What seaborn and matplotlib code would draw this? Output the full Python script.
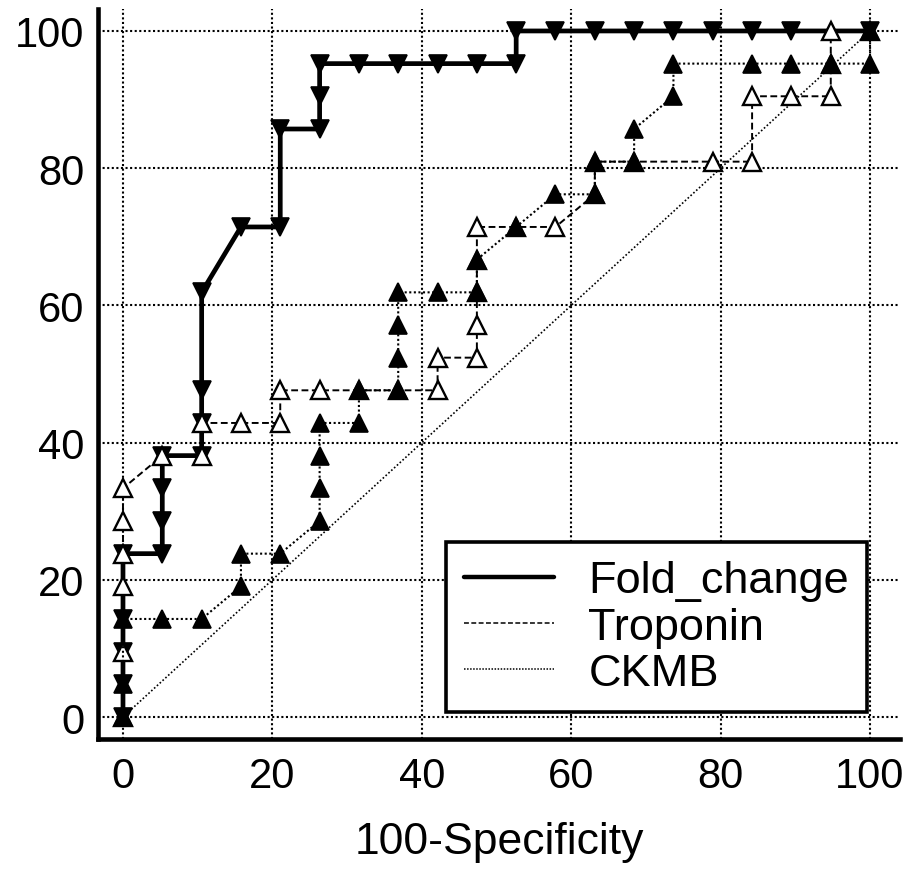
import numpy as np
import matplotlib
matplotlib.use("Agg")
import matplotlib.pyplot as plt
from matplotlib.lines import Line2D
from matplotlib.ticker import MultipleLocator
import seaborn as sns

# ROC points (100-Specificity, Sensitivity)
fold_x = [0, 0, 0, 0, 0, 5.26, 5.26, 5.26, 5.26, 10.53, 10.53, 10.53, 10.53,
          15.79, 21.05, 21.05, 26.32, 26.32, 26.32, 31.58, 36.84, 42.11, 47.37,
          52.63, 52.63, 57.89, 63.16, 68.42, 73.68, 78.95, 84.21, 89.47, 100]
fold_y = [0, 4.76, 9.52, 14.29, 23.81, 23.81, 28.57, 33.33, 38.10, 38.10, 42.86,
          47.62, 61.90, 71.43, 71.43, 85.71, 85.71, 90.48, 95.24, 95.24, 95.24,
          95.24, 95.24, 95.24, 100, 100, 100, 100, 100, 100, 100, 100, 100]

trop_x = [0, 0, 0, 0, 0, 0, 5.26, 10.53, 10.53, 15.79, 21.05, 21.05, 26.32, 31.58,
          36.84, 42.11, 42.11, 47.37, 47.37, 47.37, 47.37, 47.37, 52.63, 57.89,
          63.16, 63.16, 68.42, 78.95, 84.21, 84.21, 89.47, 94.74, 94.74, 94.74, 100]
trop_y = [0, 9.52, 19.05, 23.81, 28.57, 33.33, 38.10, 38.10, 42.86, 42.86, 42.86,
          47.62, 47.62, 47.62, 47.62, 47.62, 52.38, 52.38, 57.14, 61.90, 66.67,
          71.43, 71.43, 71.43, 76.19, 80.95, 80.95, 80.95, 80.95, 90.48, 90.48,
          90.48, 95.24, 100, 100]

ckmb_x = [0, 0, 0, 5.26, 10.53, 15.79, 15.79, 21.05, 26.32, 26.32, 26.32, 26.32,
          31.58, 31.58, 36.84, 36.84, 36.84, 36.84, 42.11, 47.37, 47.37, 52.63,
          57.89, 63.16, 63.16, 68.42, 68.42, 73.68, 73.68, 84.21, 89.47, 94.74,
          100, 100]
ckmb_y = [0, 4.76, 14.29, 14.29, 14.29, 19.05, 23.81, 23.81, 28.57, 33.33, 38.10,
          42.86, 42.86, 47.62, 47.62, 52.38, 57.14, 61.90, 61.90, 61.90, 66.67,
          71.43, 76.19, 76.19, 80.95, 80.95, 85.71, 90.48, 95.24, 95.24, 95.24,
          95.24, 95.24, 100]

labels = ["Fold_change", "Troponin", "CKMB"]

sns.set_style("white")
plt.rcParams["font.family"] = ["Liberation Sans", "DejaVu Sans"]
plt.rcParams["text.color"] = "black"
plt.rcParams["axes.labelcolor"] = "black"
plt.rcParams["xtick.color"] = "black"
plt.rcParams["ytick.color"] = "black"

fig = plt.figure(figsize=(9.13, 8.70), dpi=100)
ax = fig.add_axes([0.1073, 0.1494, 0.8784, 0.8391])

# reference diagonal
sns.lineplot(x=[0, 100], y=[0, 100], ax=ax, color="black", lw=1.2,
             linestyle=(0, (1, 1.3)), zorder=2)

sns.lineplot(x=fold_x, y=fold_y, ax=ax, sort=False, estimator=None,
             color="black", lw=3.4, linestyle="-", marker="v", markersize=13.5,
             markerfacecolor="black", markeredgecolor="black",
             markeredgewidth=1.2, zorder=3)
sns.lineplot(x=trop_x, y=trop_y, ax=ax, sort=False, estimator=None,
             color="black", lw=1.4, linestyle=(0, (3.5, 1.8)), marker="^",
             markersize=13.5, markerfacecolor="white", markeredgecolor="black",
             markeredgewidth=1.7, zorder=4)
sns.lineplot(x=ckmb_x, y=ckmb_y, ax=ax, sort=False, estimator=None,
             color="black", lw=1.5, linestyle=(0, (1, 1.2)), marker="^",
             markersize=13.5, markerfacecolor="black", markeredgecolor="black",
             markeredgewidth=1.2, zorder=5)

ax.set_xlim(-3.35, 104.0)
ax.set_ylim(-3.21, 103.2)
ax.xaxis.set_major_locator(MultipleLocator(20))
ax.yaxis.set_major_locator(MultipleLocator(20))
ax.xaxis.set_minor_locator(MultipleLocator(5))
ax.yaxis.set_minor_locator(MultipleLocator(5))

ax.grid(True, which="major", color="black", linestyle=(0, (1, 1.2)), lw=1.5)
ax.set_axisbelow(True)

for side in ["top", "right"]:
    ax.spines[side].set_visible(False)
for side in ["left", "bottom"]:
    ax.spines[side].set_linewidth(3.3)
    ax.spines[side].set_color("black")

ax.tick_params(which="major", direction="in", length=16.5, width=2.9,
               labelsize=30, color="black", pad=10)
ax.tick_params(axis="x", which="major", pad=12)
ax.tick_params(which="minor", direction="in", length=7.5, width=1.1,
               color="black")

ax.set_xlabel("100-Specificity", fontsize=32, labelpad=18)
ax.set_ylabel("")

handles = [
    Line2D([], [], color="black", lw=3.2, linestyle="-"),
    Line2D([], [], color="black", lw=1.1, linestyle=(0, (3.2, 1.6))),
    Line2D([], [], color="black", lw=1.1, linestyle=(0, (1, 1))),
]
leg = ax.legend(handles, labels, loc="lower right",
                bbox_to_anchor=(99.6, 0.7), bbox_transform=ax.transData,
                fontsize=32.5, frameon=True, fancybox=False, shadow=False,
                framealpha=1, edgecolor="black", handlelength=2.0,
                handletextpad=0.75, labelspacing=0.12, borderpad=0.4,
                borderaxespad=0)
leg.get_frame().set_linewidth(2.6)
leg.set_zorder(10)

fig.savefig("out.png", dpi=100)
